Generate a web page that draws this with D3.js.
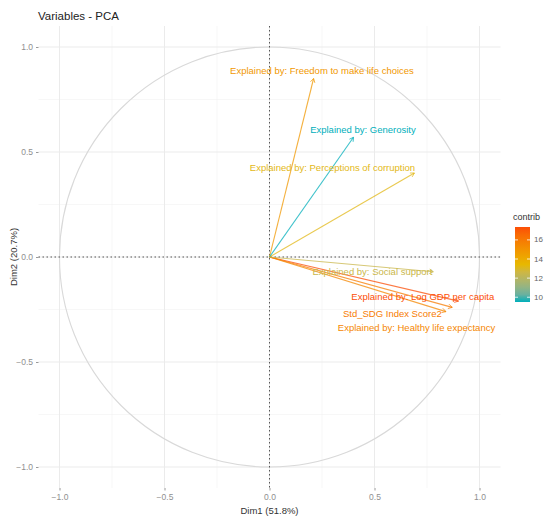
<!DOCTYPE html>
<html>
<head>
<meta charset="utf-8">
<script src="https://cdn.jsdelivr.net/npm/d3@7"></script>
<style>
  body { margin: 0; background: #fff; }
  svg { font-family: "Liberation Sans", Arial, sans-serif; }
</style>
</head>
<body>
<script>
// variables of the PCA, their coordinates on Dim1 / Dim2 and contribution
var varNames = [
	'Explained by: Log GDP per capita',
	'Std_SDG Index Score2',
	'Explained by: Healthy life expectancy',
	'Explained by: Freedom to make life choices',
	'Explained by: Perceptions of corruption',
	'Explained by: Social support',
	'Explained by: Generosity'
];
var dim1 = [0.90, 0.87, 0.84, 0.21, 0.69, 0.78, 0.40];
var dim2 = [-0.21, -0.24, -0.26, 0.85, 0.40, -0.07, 0.57];
var contrib = [17.35, 15.9, 15.5, 14.8, 13.3, 12.5, 9.5];
// where the (repelled) labels ended up, in data units
var labelX = [0.73, 0.585, 0.70, 0.25, 0.30, 0.49, 0.445];
var labelY = [-0.19, -0.267, -0.338, 0.89, 0.425, -0.07, 0.605];

var axisTicks = [-1.0, -0.5, 0.0, 0.5, 1.0];
var minorTicks = [-0.75, -0.25, 0.25, 0.75];
var legendTicks = [10, 12, 14, 16];
var gradientCols = ['#00AFBB', '#E7B800', '#FC4E07'];

var width = 550,
	height = 520;

var svg = d3.select('body').append('svg')
	.attr('width', width)
	.attr('height', height);

var xScale = d3.scaleLinear().domain([-1.1, 1.1]).range([38.5, 500.5]),
	yScale = d3.scaleLinear().domain([-1.1, 1.1]).range([488, 26]);

var cMin = d3.min(contrib), cMax = d3.max(contrib);
var colorScale = d3.scaleLinear()
	.domain([cMin, (cMin + cMax) / 2, cMax])
	.range(gradientCols)
	.interpolate(d3.interpolateLab);

var dataset = varNames.map(function(name, i) {
	return { name: name, x: dim1[i], y: dim2[i], contrib: contrib[i], lx: labelX[i], ly: labelY[i] };
});

// grid
var grid = svg.append('g');
grid.selectAll('.minor-v').data(minorTicks).enter().append('line')
	.attr('x1', function(d) { return xScale(d); })
	.attr('x2', function(d) { return xScale(d); })
	.attr('y1', yScale.range()[1]).attr('y2', yScale.range()[0])
	.attr('stroke', '#f2f2f2').attr('stroke-width', 0.6);
grid.selectAll('.minor-h').data(minorTicks).enter().append('line')
	.attr('y1', function(d) { return yScale(d); })
	.attr('y2', function(d) { return yScale(d); })
	.attr('x1', xScale.range()[0]).attr('x2', xScale.range()[1])
	.attr('stroke', '#f2f2f2').attr('stroke-width', 0.6);
grid.selectAll('.major-v').data(axisTicks).enter().append('line')
	.attr('x1', function(d) { return xScale(d); })
	.attr('x2', function(d) { return xScale(d); })
	.attr('y1', yScale.range()[1]).attr('y2', yScale.range()[0])
	.attr('stroke', '#ebebeb').attr('stroke-width', 1);
grid.selectAll('.major-h').data(axisTicks).enter().append('line')
	.attr('y1', function(d) { return yScale(d); })
	.attr('y2', function(d) { return yScale(d); })
	.attr('x1', xScale.range()[0]).attr('x2', xScale.range()[1])
	.attr('stroke', '#ebebeb').attr('stroke-width', 1);

// axes (no domain line, short grey ticks)
var xAxis = d3.axisBottom(xScale).tickValues(axisTicks).tickSize(2.5).tickPadding(3).tickFormat(d3.format('.1f')),
	yAxis = d3.axisLeft(yScale).tickValues(axisTicks).tickSize(2.5).tickPadding(3).tickFormat(d3.format('.1f'));

var gx = svg.append('g')
	.attr('transform', 'translate(0,' + yScale.range()[0] + ')')
	.call(xAxis);
var gy = svg.append('g')
	.attr('transform', 'translate(' + xScale.range()[0] + ',0)')
	.call(yAxis);
[gx, gy].forEach(function(g) {
	g.select('.domain').remove();
	g.selectAll('line').attr('stroke', '#999');
	g.selectAll('text').attr('fill', '#8f8f8f').style('font-size', '8.5px').style('font-family', null);
});

// correlation circle
svg.append('circle')
	.attr('cx', xScale(0)).attr('cy', yScale(0))
	.attr('r', xScale(1) - xScale(0))
	.attr('fill', 'none')
	.attr('stroke', '#d9d9d9')
	.attr('stroke-width', 1.1);

// dashed zero lines
svg.append('line')
	.attr('x1', xScale.range()[0]).attr('x2', xScale.range()[1])
	.attr('y1', yScale(0)).attr('y2', yScale(0))
	.attr('stroke', '#555').attr('stroke-width', 1).attr('stroke-dasharray', '1.5,2.5');
svg.append('line')
	.attr('x1', xScale(0)).attr('x2', xScale(0))
	.attr('y1', yScale.range()[1]).attr('y2', yScale.range()[0])
	.attr('stroke', '#555').attr('stroke-width', 1).attr('stroke-dasharray', '1.5,2.5');

// arrows
var arrows = svg.append('g');
arrows.selectAll('.arrow')
	.data(dataset)
	.enter().append('line')
	.attr('class', 'arrow')
	.attr('x1', xScale(0)).attr('y1', yScale(0))
	.attr('x2', function(d) { return xScale(d.x); })
	.attr('y2', function(d) { return yScale(d.y); })
	.attr('stroke', function(d) { return colorScale(d.contrib); })
	.attr('stroke-width', 1.1)
	.attr('opacity', 0.75);

// open arrow heads
arrows.selectAll('.head')
	.data(dataset)
	.enter().append('path')
	.attr('class', 'head')
	.attr('d', function(d) {
		var x2 = xScale(d.x), y2 = yScale(d.y);
		var ang = Math.atan2(y2 - yScale(0), x2 - xScale(0));
		var len = 4.5, spread = Math.PI / 6;
		var ax = x2 - len * Math.cos(ang - spread), ay = y2 - len * Math.sin(ang - spread);
		var bx = x2 - len * Math.cos(ang + spread), by = y2 - len * Math.sin(ang + spread);
		return 'M' + ax + ',' + ay + 'L' + x2 + ',' + y2 + 'L' + bx + ',' + by;
	})
	.attr('fill', 'none')
	.attr('stroke', function(d) { return colorScale(d.contrib); })
	.attr('stroke-width', 1)
	.attr('opacity', 0.75);

// labels
svg.selectAll('.var-label')
	.data(dataset)
	.enter().append('text')
	.attr('class', 'var-label')
	.attr('x', function(d) { return xScale(d.lx); })
	.attr('y', function(d) { return yScale(d.ly); })
	.attr('text-anchor', 'middle')
	.attr('dominant-baseline', 'central')
	.attr('fill', function(d) { return colorScale(d.contrib); })
	.style('font-size', '9.5px')
	.text(function(d) { return d.name; });

// title and axis titles
svg.append('text')
	.attr('x', 38).attr('y', 20)
	.attr('fill', '#222')
	.style('font-size', '11.5px')
	.text('Variables - PCA');

svg.append('text')
	.attr('x', xScale(0)).attr('y', 514)
	.attr('text-anchor', 'middle')
	.attr('fill', '#333')
	.style('font-size', '9.5px')
	.text('Dim1 (51.8%)');

svg.append('text')
	.attr('transform', 'translate(17,' + yScale(0) + ') rotate(-90)')
	.attr('text-anchor', 'middle')
	.attr('fill', '#333')
	.style('font-size', '9.5px')
	.text('Dim2 (20.7%)');

// colour bar legend
var legendScale = d3.scaleLinear().domain([cMin, cMax]).range([302, 227]);
var defs = svg.append('defs');
var grad = defs.append('linearGradient')
	.attr('id', 'contribGrad')
	.attr('x1', 0).attr('y1', 1).attr('x2', 0).attr('y2', 0);
d3.range(0, 1.0001, 0.1).forEach(function(t) {
	grad.append('stop')
		.attr('offset', t)
		.attr('stop-color', colorScale(cMin + t * (cMax - cMin)));
});

svg.append('text')
	.attr('x', 513).attr('y', 220)
	.attr('fill', '#333')
	.style('font-size', '9px')
	.text('contrib');

svg.append('rect')
	.attr('x', 515).attr('y', legendScale(cMax))
	.attr('width', 15)
	.attr('height', legendScale(cMin) - legendScale(cMax))
	.attr('fill', 'url(#contribGrad)');

var lg = svg.append('g');
lg.selectAll('.lt').data(legendTicks).enter().append('line')
	.attr('x1', 515).attr('x2', 518)
	.attr('y1', function(d) { return legendScale(d); })
	.attr('y2', function(d) { return legendScale(d); })
	.attr('stroke', '#fff').attr('stroke-width', 0.8);
lg.selectAll('.lt2').data(legendTicks).enter().append('line')
	.attr('x1', 527).attr('x2', 530)
	.attr('y1', function(d) { return legendScale(d); })
	.attr('y2', function(d) { return legendScale(d); })
	.attr('stroke', '#fff').attr('stroke-width', 0.8);
lg.selectAll('.ll').data(legendTicks).enter().append('text')
	.attr('x', 534)
	.attr('y', function(d) { return legendScale(d); })
	.attr('dominant-baseline', 'central')
	.attr('fill', '#666')
	.style('font-size', '8px')
	.text(function(d) { return d; });
</script>
</body>
</html>
